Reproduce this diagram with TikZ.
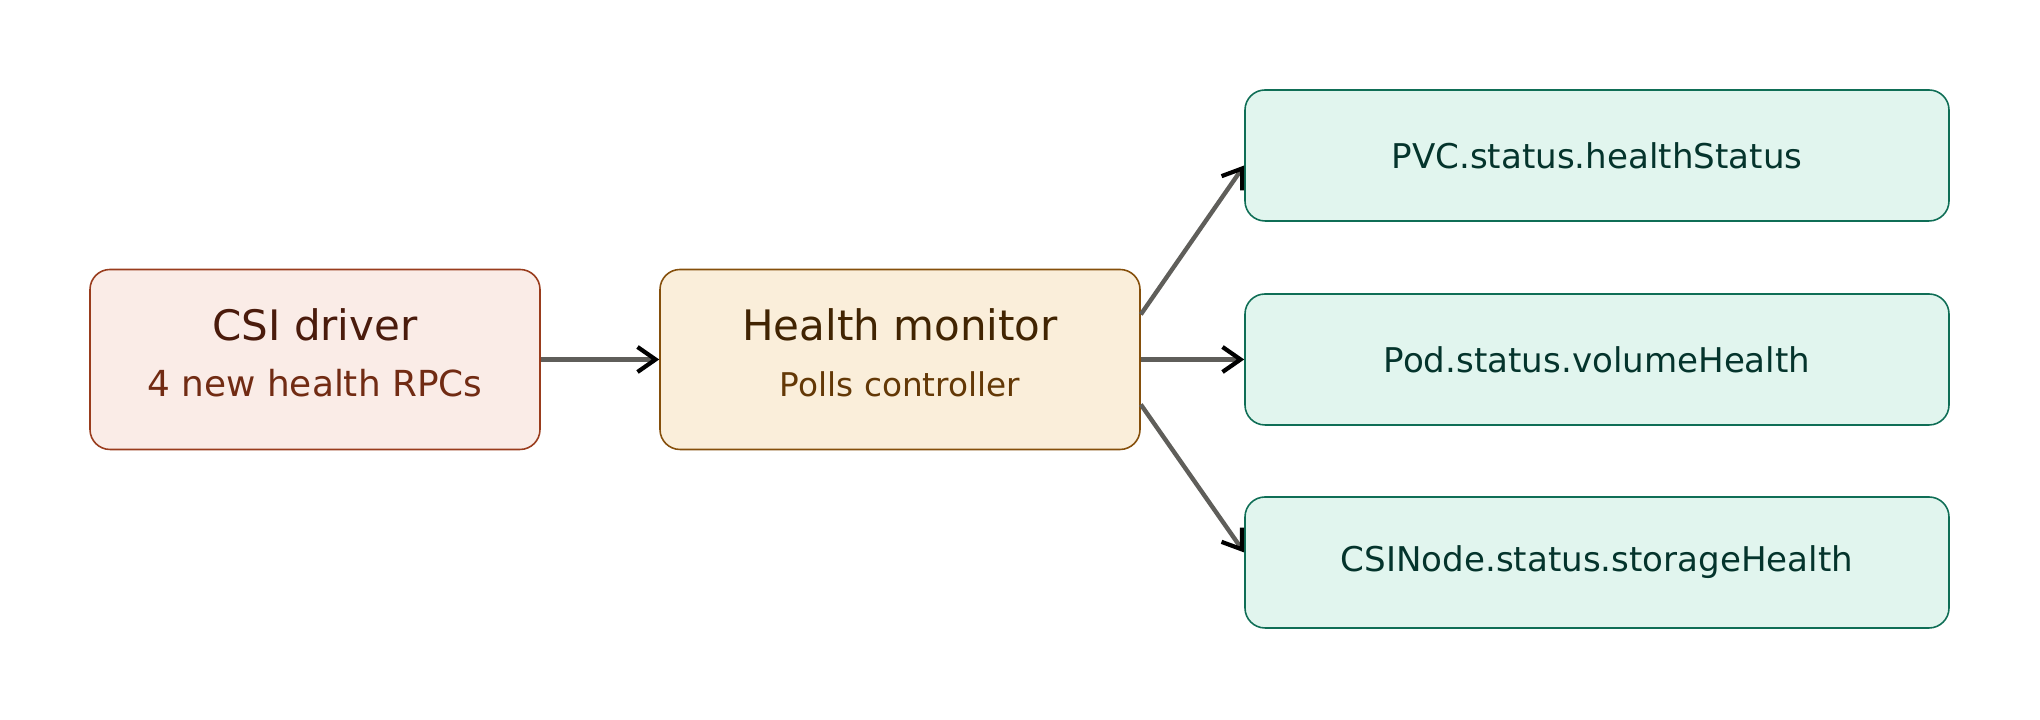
\documentclass[tikz,border=0pt]{standalone}
\usepackage{fontspec}
\setmainfont{DejaVu Sans}
\usetikzlibrary{arrows.meta,calc}
\definecolor{drvfill}{HTML}{FAECE7}
\definecolor{drvline}{HTML}{993C1D}
\definecolor{drvtitle}{HTML}{4A1B0C}
\definecolor{drvsub}{HTML}{712B13}
\definecolor{monfill}{HTML}{FAEEDA}
\definecolor{monline}{HTML}{854F0B}
\definecolor{montitle}{HTML}{412402}
\definecolor{monsub}{HTML}{633806}
\definecolor{fldfill}{HTML}{E1F5EE}
\definecolor{fldline}{HTML}{0F6E56}
\definecolor{fldtext}{HTML}{04342C}
\definecolor{linkgray}{HTML}{5F5E5A}
\newcommand{\titlefont}{\fontsize{11.95}{14.9}\selectfont}
\newcommand{\lowstrut}{\rule[-0.13cm]{0pt}{0pt}}
\begin{document}
\begin{tikzpicture}[font=\fontsize{9.7}{14.9}\selectfont,
  box/.style={draw, rounded corners=0.2cm, line width=0.45pt, minimum height=1.8cm, align=center, inner sep=0pt},
  field/.style={box, minimum width=7.04cm, minimum height=1.31cm, fill=fldfill, draw=fldline, text=fldtext},
  link/.style={draw=linkgray, line width=1.25pt, -{Straight Barb[black, length=0.18cm, width=0.25cm, line width=1.2pt]}}]
\useasboundingbox (0,0) rectangle (20.4,7.2);
\node[box, minimum width=4.5cm, fill=drvfill, draw=drvline, text=drvsub] (drv) at (3.15,3.605)
  {{\titlefont\color{drvtitle}CSI driver}\\[1pt]{\fontsize{10.2}{14.9}\selectfont 4 new health RPCs}\lowstrut};
\node[box, minimum width=4.8cm, fill=monfill, draw=monline, text=monsub] (mon) at (9.0,3.605)
  {{\titlefont\color{montitle}Health monitor}\\[1pt]{\fontsize{9.3}{14.9}\selectfont Polls controller}\lowstrut};
\node[field] (pvc) at (15.97,5.645) {PVC.status.healthStatus};
\node[field] (pod) at (15.97,3.605) {Pod.status.volumeHealth};
\node[field] (csin) at (15.97,1.575) {CSINode.status.storageHealth};
% connectors
\draw[link] (drv.east) -- (mon.west);
\draw[link] ($(mon.east)+(0,0.45)$) -- ($(pvc.west)+(0,-0.1)$);
\draw[link] (mon.east) -- (pod.west);
\draw[link] ($(mon.east)+(0,-0.45)$) -- ($(csin.west)+(0,0.1)$);
\end{tikzpicture}
\end{document}
